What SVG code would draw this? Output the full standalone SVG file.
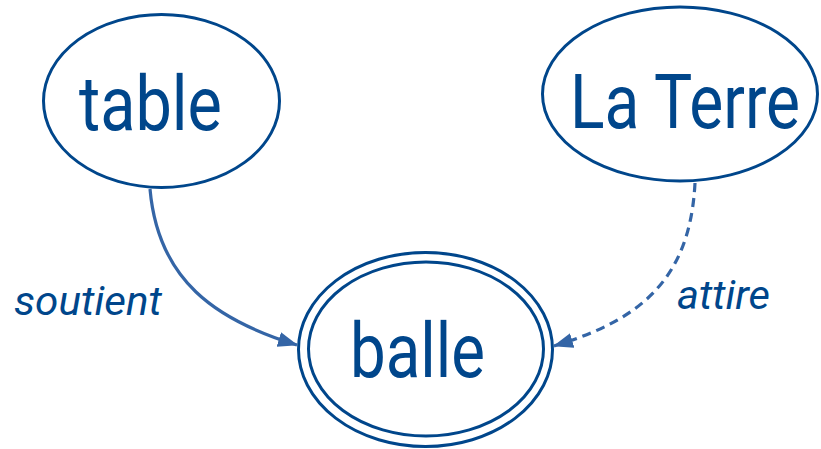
<svg xmlns="http://www.w3.org/2000/svg" width="821" height="449" viewBox="0 0 821 449">
<style>
.node{fill:#fff;stroke:#00468b;stroke-width:3}
.lbl{font-family:Roboto,"Liberation Sans",sans-serif;fill:#00468b;font-size:76px}
.elbl{font-family:Roboto,"Liberation Sans",sans-serif;fill:#00468b;font-size:40px;font-style:italic}
.edge{fill:none;stroke:#3465a6;stroke-width:3.2}
</style>
<defs>
<marker id="arr" markerUnits="userSpaceOnUse" markerWidth="20" markerHeight="16" refX="19" refY="7.5" orient="auto">
<path d="M0,0 L20,7.5 L0,15 z" fill="#3465a6"/>
</marker>
</defs>
<g id="connectors">
<path class="edge" d="M150,189 C158,280 215,320 297,345" marker-end="url(#arr)"/>
<path class="edge" d="M695,183 C690,280 640,320 554,346" stroke-dasharray="9,6" marker-end="url(#arr)"/>
<text class="elbl" x="14" y="315" textLength="148" lengthAdjust="spacingAndGlyphs">soutient</text>
<text class="elbl" x="677" y="309" textLength="93" lengthAdjust="spacingAndGlyphs">attire</text>
</g>
<g id="table">
<ellipse class="node" cx="161.5" cy="101" rx="118" ry="86.5"/>
<text class="lbl" x="79" y="130" textLength="143" lengthAdjust="spacingAndGlyphs">table</text>
</g>
<g id="laterre">
<ellipse class="node" cx="680" cy="94" rx="137.5" ry="87"/>
<text class="lbl" x="570" y="128" textLength="230" lengthAdjust="spacingAndGlyphs">La Terre</text>
</g>
<g id="balle">
<ellipse class="node" cx="425.5" cy="349.5" rx="127" ry="97"/>
<ellipse class="node" cx="426" cy="349" rx="117.5" ry="87"/>
<text class="lbl" x="350" y="377" textLength="135" lengthAdjust="spacingAndGlyphs">balle</text>
</g>
</svg>
